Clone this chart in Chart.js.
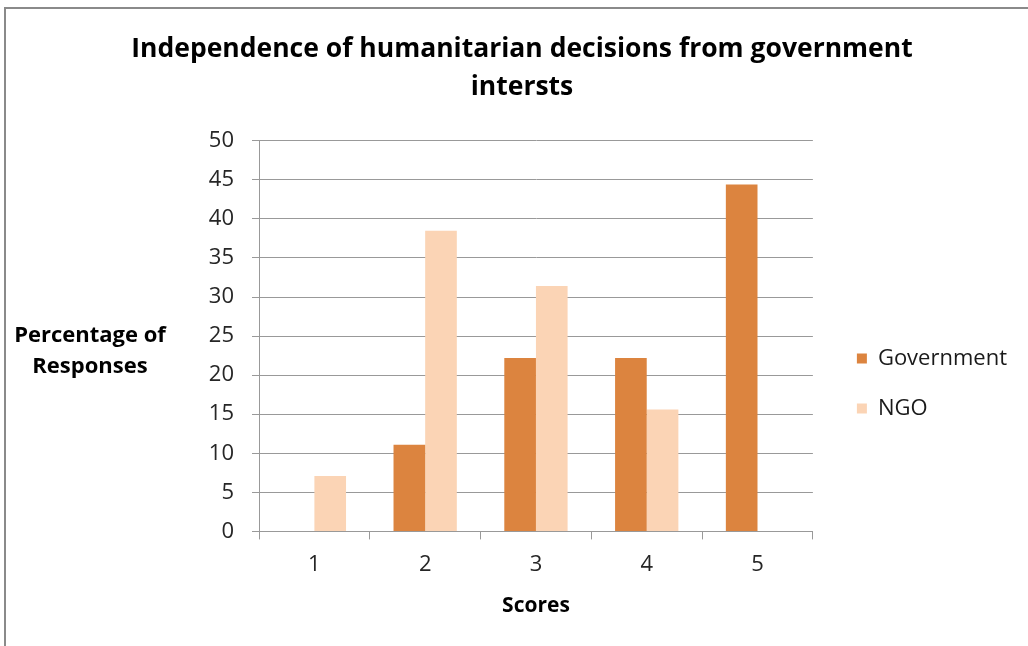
<!DOCTYPE html>
<html>
<head>
<meta charset="utf-8">
<script src="https://cdn.jsdelivr.net/npm/chart.js@4.4.1/dist/chart.umd.min.js"></script>
<style>
  body { margin: 0; background: #fff; overflow: hidden; }
  #wrap { position: relative; width: 1028px; height: 646px; }
  #frame { position: absolute; left: 4px; top: 7px; width: 1100px; height: 700px;
           border: 2px solid #8a8a8a; pointer-events: none; }
</style>
</head>
<body>
<div id="wrap">
  <canvas id="chart" width="1028" height="646"></canvas>
  <div id="frame"></div>
</div>
<script>
const scores = ["1", "2", "3", "4", "5"];
const government = [0, 11.1, 22.2, 22.2, 44.4];
const ngo = [7.1, 38.5, 31.4, 15.6, 0];
const yTicks = [0, 5, 10, 15, 20, 25, 30, 35, 40, 45, 50];

const FONT = '"Open Sans", sans-serif';
const ctx = document.getElementById('chart');

// y axis title is horizontal in the original, so draw it by hand
// also nudges the legend into the place it has in the original
const tweaks = {
  id: 'tweaks',
  beforeLayout(chart) {
    const lg = chart.legend;
    if (lg && !lg._wider) {
      const fit = lg.fit;
      lg.fit = function () { fit.call(this); this.width += 10; };
      lg._wider = true;
    }
  },
  afterLayout(chart) {
    const lg = chart.legend;
    lg.left += 16; lg.right += 16;
    lg.top += 72; lg.bottom += 72;
  },
  afterDraw(chart) {
    const c = chart.ctx;
    const area = chart.chartArea;
    const mid = (area.top + area.bottom) / 2;
    c.save();
    c.font = 'bold 22px ' + FONT;
    c.fillStyle = '#000';
    c.textAlign = 'center';
    c.textBaseline = 'middle';
    c.fillText('Percentage of', area.left - 169, mid);
    c.fillText('Responses', area.left - 169, mid + 31);
    c.restore();
  }
};

new Chart(ctx, {
  type: 'bar',
  data: {
    labels: scores,
    datasets: [
      { label: 'Government', data: government, backgroundColor: '#DC843F' },
      { label: 'NGO', data: ngo, backgroundColor: '#FBD4B5' }
    ]
  },
  options: {
    responsive: false,
    animation: false,
    events: [],
    datasets: {
      bar: { categoryPercentage: 2 / 3.5, barPercentage: 1 }
    },
    layout: {
      padding: { left: 33, right: 17, top: 0, bottom: 23 }
    },
    plugins: {
      title: {
        display: true,
        text: ['Independence of humanitarian decisions from government', 'intersts'],
        color: '#000',
        font: { family: FONT, size: 26.5, weight: 'bold', lineHeight: 1.43 },
        padding: { top: 31, bottom: 34 }
      },
      legend: {
        position: 'right',
        labels: {
          color: '#1a1a1a',
          font: { family: FONT, size: 22 },
          boxWidth: 10,
          boxHeight: 10,
          padding: 28
        }
      },
      tooltip: { enabled: false }
    },
    scales: {
      x: {
        grid: { offset: true, drawOnChartArea: false, color: '#999', tickLength: 8 },
        border: { color: '#999' },
        ticks: { color: '#262626', font: { family: FONT, size: 22 }, padding: 12 },
        title: {
          display: true, text: 'Scores', color: '#000',
          font: { family: FONT, size: 21, weight: 'bold' }, padding: { top: 4 }
        }
      },
      y: {
        min: 0,
        max: 50,
        afterBuildTicks: (axis) => { axis.ticks = yTicks.map(v => ({ value: v })); },
        afterFit: (axis) => { axis.width = 226; },
        grid: { color: '#999', tickLength: 7 },
        border: { color: '#999' },
        ticks: { color: '#262626', font: { family: FONT, size: 22 }, padding: 18 }
      }
    }
  },
  plugins: [tweaks]
});
</script>
</body>
</html>
